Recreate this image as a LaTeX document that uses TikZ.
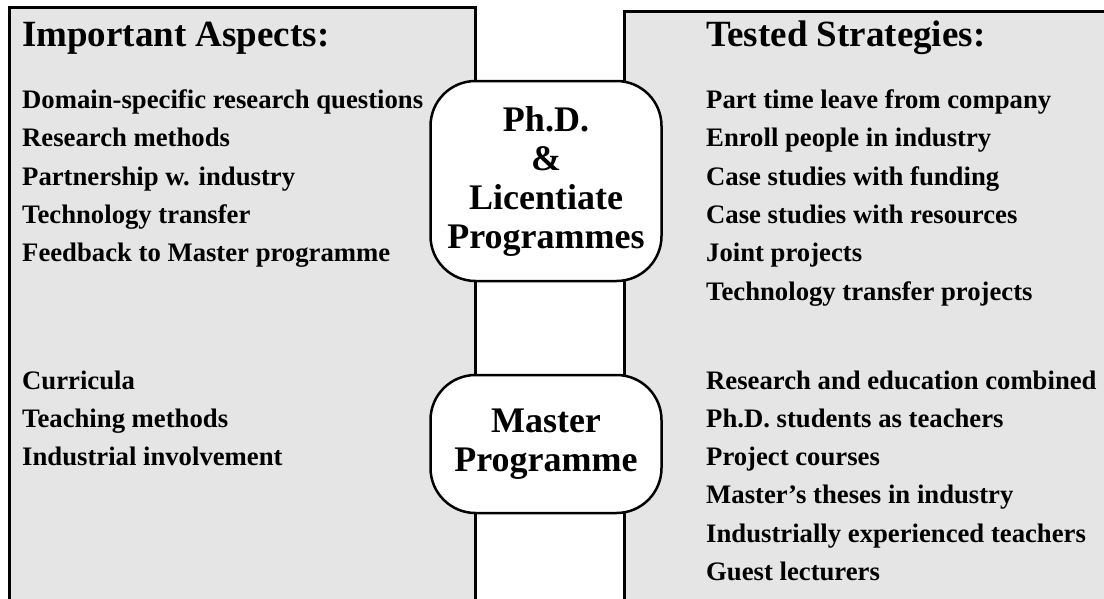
\documentclass[tikz,border=0pt]{standalone}
\usepackage{fontspec}
\setmainfont{Liberation Serif}
\usetikzlibrary{positioning}
\definecolor{panelgray}{RGB}{229,229,229}
\tikzset{
  frame/.style={line width=3pt},
  heading/.style={anchor=base west, inner sep=0pt, font=\fontsize{37}{40}\selectfont\bfseries},
  item/.style={anchor=base west, inner sep=0pt, font=\fontsize{26.7}{30}\selectfont\bfseries},
  prog/.style={draw, fill=white, line width=2.5pt, rounded corners=45pt,
    minimum width=231pt, align=center, font=\fontsize{36}{39}\selectfont\bfseries},
}
\begin{document}
\begin{tikzpicture}[x=1pt,y=-1pt]
  \useasboundingbox (0,0) rectangle (1104,598);

  % panels
  \fill[panelgray] (9.5,7.5) rectangle (475.5,610);
  \draw[frame] (9.5,610) -- (9.5,7.5) -- (475.5,7.5) -- (475.5,610);
  \fill[panelgray] (624,11) rectangle (1110,610);
  \draw[frame] (624,610) -- (624,11) -- (1110,11);

  % headings
  \node[heading] (aspects) at (22,46) {Important Aspects:};
  \node[heading] (strategies) at (706,46) {Tested Strategies:};

  % important aspects
  \foreach \txt [count=\i] in {Domain-specific research questions, Research methods,
      Partnership w. industry, Technology transfer, Feedback to Master programme} {
    \node[item] (phdasp\i) at (22,{108.5+(\i-1)*38.3}) {\txt};
  }
  \foreach \txt [count=\i] in {Curricula, Teaching methods, Industrial involvement} {
    \node[item] (msasp\i) at (22,{389+(\i-1)*38.3}) {\txt};
  }

  % tested strategies
  \foreach \txt [count=\i] in {Part time leave from company, Enroll people in industry,
      Case studies with funding, Case studies with resources, Joint projects,
      Technology transfer projects} {
    \node[item] (phdstr\i) at (706,{108.5+(\i-1)*38.3}) {\txt};
  }
  \foreach \txt [count=\i] in {Research and education combined, Ph.D. students as teachers,
      Project courses, Master's theses in industry, Industrially experienced teachers,
      Guest lecturers} {
    \node[item] (msstr\i) at (706,{389+(\i-1)*38.3}) {\txt};
  }

  % programmes
  \node[prog, minimum height=200pt] (phd) at (546,181) {Ph.D.\\\&\\Licentiate\\Programmes};
  \node[prog, minimum height=138pt] (master) at (546,444) {Master\\Programme};
\end{tikzpicture}
\end{document}
